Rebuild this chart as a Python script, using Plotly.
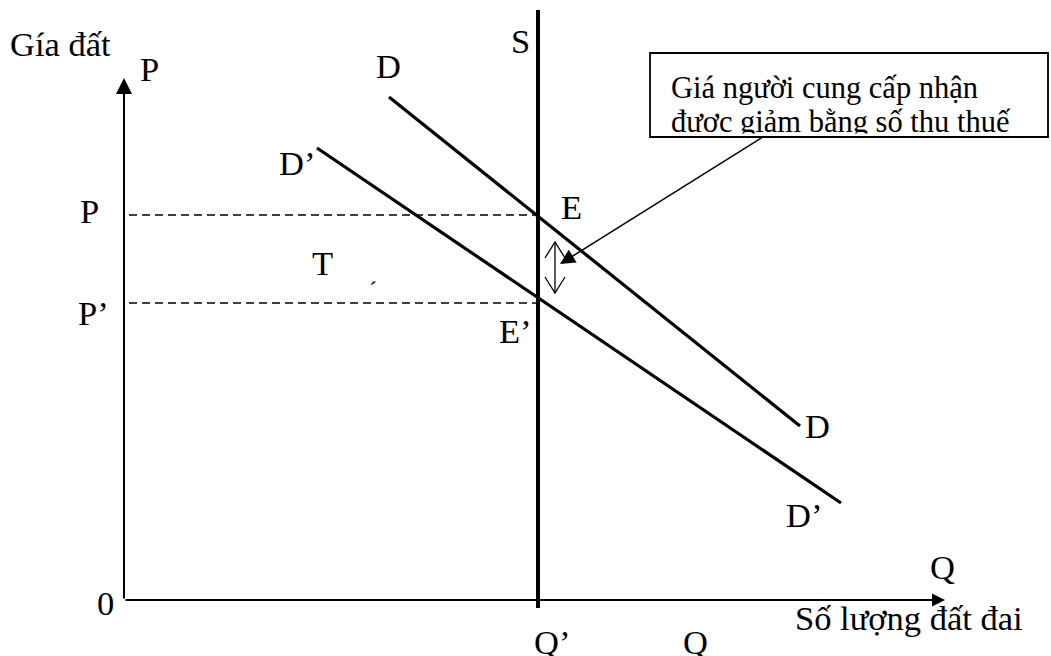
import plotly.graph_objects as go

# Frame: origin at the corner of the two axes, 1 unit = 10 px
X_RANGE = [-12.4, 92.7]
Y_RANGE = [-5.6, 60.0]

# Supply (vertical, fixed quantity of land)
supply_x = [41.4, 41.4]
supply_y = [-0.8, 59.0]

# Demand before tax (D) and after tax (D')
demand_x = [26.5, 67.6]
demand_y = [50.3, 17.4]
demand_tax_x = [19.3, 71.7]
demand_tax_y = [45.2, 9.7]

# Equilibrium prices P and P', quantity Q'
price_levels = [38.5, 29.7]
q_fixed = 41.4

# Axis extents
axis_x_end = 82.1
axis_y_end = 52.2

# Double arrow showing the tax wedge
wedge_x = 43.1
wedge_top = 35.8
wedge_bottom = 30.7

# Callout arrow: tail on the note box, head on the wedge
callout_tail = (63.9, 46.3)
callout_head = (43.6, 33.6)

# Note box
box_x = [52.6, 92.4]
box_y = [46.3, 54.7]
note_lines = ["Giá người cung cấp nhận", "được giảm bằng số thu thuế"]
note_x = 54.7
note_y = [51.0, 47.6]

# Labels: text, x, y
labels = [
    ("P", 2.5, 53.1),
    ("S", 39.6, 55.9),
    ("D", 26.4, 53.4),
    ("D’", 17.3, 43.7),
    ("P", -3.5, 38.9),
    ("P’", -3.1, 28.7),
    ("T", 19.8, 33.7),
    ("E", 44.7, 39.3),
    ("E’", 39.1, 26.9),
    ("D", 69.3, 17.4),
    ("D’", 68.0, 8.5),
    ("Q", 81.8, 3.3),
    ("0", -1.9, -0.3),
    ("Q’", 42.8, -4.2),
    ("Q", 57.1, -4.2),
]
y_title = ("Gía đất", -11.6, 55.6)
x_title = ("Số lượng đất đai", 66.9, -1.8)

FONT = "Liberation Serif, Times New Roman, serif"
INK = "black"
LABEL_SIZE = 34.5
NOTE_SIZE = 30.5

fig = go.Figure()

# price guide lines
for p in price_levels:
    fig.add_trace(go.Scatter(x=[0.5, q_fixed], y=[p, p], mode="lines",
                             line=dict(color=INK, width=1.3, dash="8px,5px"),
                             hoverinfo="skip"))

# demand curves
fig.add_trace(go.Scatter(x=demand_x, y=demand_y, mode="lines",
                         line=dict(color=INK, width=3.2), hoverinfo="skip"))
fig.add_trace(go.Scatter(x=demand_tax_x, y=demand_tax_y, mode="lines",
                         line=dict(color=INK, width=3.2), hoverinfo="skip"))

# supply
fig.add_trace(go.Scatter(x=supply_x, y=supply_y, mode="lines",
                         line=dict(color=INK, width=4), hoverinfo="skip"))

# tax wedge double arrow with open heads
hw, hh = 1.0, 1.6
fig.add_trace(go.Scatter(
    x=[wedge_x, wedge_x, None,
       wedge_x - hw, wedge_x, wedge_x + hw, None,
       wedge_x - hw, wedge_x, wedge_x + hw],
    y=[wedge_top, wedge_bottom, None,
       wedge_top - hh, wedge_top, wedge_top - hh, None,
       wedge_bottom + hh, wedge_bottom, wedge_bottom + hh],
    mode="lines", line=dict(color=INK, width=1.3), hoverinfo="skip"))

# note text
fig.add_trace(go.Scatter(x=[note_x] * len(note_lines), y=note_y, mode="text",
                         text=note_lines, textposition="middle right",
                         textfont=dict(family=FONT, size=NOTE_SIZE, color=INK),
                         hoverinfo="skip"))

annotations = []
# axes drawn as arrows
annotations.append(dict(x=0, y=axis_y_end, ax=0, ay=0, xref="x", yref="y",
                        axref="x", ayref="y", text="", showarrow=True,
                        arrowhead=2, arrowsize=1.6, arrowwidth=2, arrowcolor=INK))
annotations.append(dict(x=axis_x_end, y=0, ax=0, ay=0, xref="x", yref="y",
                        axref="x", ayref="y", text="", showarrow=True,
                        arrowhead=2, arrowsize=1.3, arrowwidth=2, arrowcolor=INK))
# callout arrow
annotations.append(dict(x=callout_head[0], y=callout_head[1],
                        ax=callout_tail[0], ay=callout_tail[1],
                        xref="x", yref="y", axref="x", ayref="y", text="",
                        showarrow=True, arrowhead=2, arrowsize=2,
                        arrowwidth=1.5, arrowcolor=INK))

for t, x, y in labels:
    annotations.append(dict(x=x, y=y, text=t, showarrow=False,
                            xanchor="center", yanchor="middle",
                            font=dict(family=FONT, size=LABEL_SIZE, color=INK)))
annotations.append(dict(x=24.9, y=31.0, text="´", showarrow=False,
                        font=dict(family=FONT, size=24, color=INK)))
for t, x, y in (y_title, x_title):
    annotations.append(dict(x=x, y=y, text=t, showarrow=False,
                            xanchor="left", yanchor="middle",
                            font=dict(family=FONT, size=LABEL_SIZE, color=INK)))

shapes = [
    # hides the part of the note text that runs past the box
    dict(type="rect", xref="x", yref="y", x0=box_x[0] - 0.3, x1=box_x[1] + 1,
         y0=box_y[0] - 1.5, y1=box_y[0] + 0.35, fillcolor="white",
         line=dict(width=0), layer="above"),
    dict(type="rect", xref="x", yref="y", x0=box_x[0], x1=box_x[1],
         y0=box_y[0], y1=box_y[1], line=dict(color=INK, width=1.8),
         fillcolor="rgba(0,0,0,0)", layer="above"),
]

fig.update_layout(
    width=1051, height=656,
    margin=dict(l=0, r=0, t=0, b=0),
    paper_bgcolor="white", plot_bgcolor="white",
    showlegend=False,
    xaxis=dict(range=X_RANGE, visible=False, fixedrange=True),
    yaxis=dict(range=Y_RANGE, visible=False, fixedrange=True),
    annotations=annotations,
    shapes=shapes,
)

fig.write_html("out.html", config={"displayModeBar": False})
